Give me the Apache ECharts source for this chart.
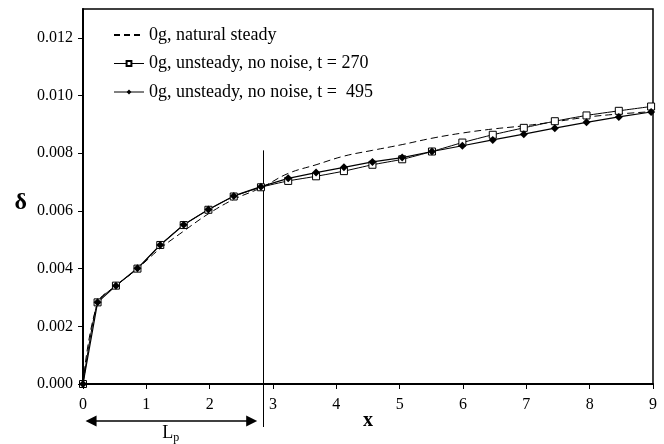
<!DOCTYPE html>
<html>
<head>
<meta charset="utf-8">
<script src="https://cdn.jsdelivr.net/npm/echarts@6/dist/echarts.min.js"></script>
<style>
  html, body { margin: 0; padding: 0; background: #fff; }
  #main { width: 664px; height: 444px; }
</style>
</head>
<body>
<div id="main"></div>
<script>
var xs = [0, 0.23, 0.52, 0.86, 1.22, 1.59, 1.98, 2.38, 2.81, 3.24, 3.68, 4.12, 4.57, 5.04, 5.51, 5.99, 6.47, 6.96, 7.45, 7.95, 8.46, 8.97];
var steady = [0, 0.0028, 0.0034, 0.0040, 0.0047, 0.0053, 0.0059, 0.0064, 0.0068, 0.0073, 0.0076, 0.0079, 0.0081, 0.0083, 0.00852, 0.0087, 0.00884, 0.00895, 0.00909, 0.00925, 0.00936, 0.00944];
var t270 = [0, 0.00283, 0.00341, 0.00400, 0.00482, 0.00551, 0.00604, 0.00650, 0.00682, 0.00704, 0.00720, 0.00738, 0.00760, 0.00779, 0.00806, 0.00837, 0.00864, 0.00888, 0.00911, 0.00931, 0.00947, 0.00962];
var t495 = [0, 0.00283, 0.00341, 0.00401, 0.00482, 0.00552, 0.00605, 0.00652, 0.00684, 0.00713, 0.00733, 0.00751, 0.00770, 0.00785, 0.00806, 0.00826, 0.00846, 0.00866, 0.00887, 0.00907, 0.00926, 0.00943];
var names = ['0g, natural steady', '0g, unsteady, no noise, t = 270', '0g, unsteady, no noise, t =  495'];
var lpX = 2.85;

function pairs(a) {
    return xs.map(function (x, i) { return [x, a[i]]; });
}

var font = 'Liberation Serif';
var myChart = echarts.init(document.getElementById('main'));

var option = {
    backgroundColor: '#fff',
    animation: false,
    grid: {
        left: 83, right: 11, top: 9, bottom: 60,
        show: true, borderColor: '#000', borderWidth: 1.5
    },
    legend: {
        orient: 'vertical',
        left: 108,
        top: 21,
        itemWidth: 30,
        itemHeight: 6,
        itemGap: 10.5,
        lineStyle: { width: 1 },
        textStyle: { fontFamily: font, fontSize: 18, color: '#000' },
        data: [
            { name: names[0], itemStyle: { opacity: 0 }, lineStyle: { width: 2, type: [6, 4], color: '#000' } },
            { name: names[1] },
            { name: names[2] }
        ]
    },
    xAxis: {
        type: 'value',
        min: 0, max: 9, interval: 1,
        name: 'x',
        nameLocation: 'middle',
        nameGap: 27,
        nameMoveOverlap: false,
        nameTextStyle: { fontFamily: font, fontSize: 20, fontWeight: 'bold', color: '#000' },
        axisLine: { lineStyle: { color: '#000', width: 2 } },
        axisTick: { lineStyle: { color: '#000' }, length: 5 },
        axisLabel: { fontFamily: font, fontSize: 16, color: '#000', margin: 13 },
        splitLine: { show: false }
    },
    yAxis: {
        type: 'value',
        min: 0, max: 0.013, interval: 0.002,
        name: 'δ',
        nameLocation: 'middle',
        nameRotate: 0,
        nameGap: 56,
        nameMoveOverlap: false,
        nameTextStyle: {
            fontFamily: font, fontSize: 24, fontWeight: 'bold', color: '#000',
            verticalAlign: 'top', lineHeight: 12
        },
        axisLine: { lineStyle: { color: '#000', width: 2 } },
        axisTick: { lineStyle: { color: '#000' }, length: 5 },
        axisLabel: {
            fontFamily: font, fontSize: 16, color: '#000', margin: 10,
            showMaxLabel: false,
            formatter: function (v) { return v.toFixed(3); }
        },
        splitLine: { show: false }
    },
    series: [
        {
            name: names[0],
            type: 'line',
            smooth: 0.4,
            symbol: 'none',
            lineStyle: { color: '#000', width: 1, type: [7, 4] },
            itemStyle: { color: '#000' },
            data: pairs(steady)
        },
        {
            name: names[1],
            type: 'line',
            smooth: 0.2,
            symbol: 'rect',
            symbolSize: 7,
            lineStyle: { color: '#000', width: 1 },
            itemStyle: { color: '#fff', borderColor: '#000', borderWidth: 1 },
            data: pairs(t270)
        },
        {
            name: names[2],
            type: 'line',
            symbol: 'diamond',
            symbolSize: 8,
            lineStyle: { color: '#000', width: 1.2 },
            itemStyle: { color: '#000' },
            data: pairs(t495)
        }
    ]
};
myChart.setOption(option);

// vertical marker and the L_p arrow below the axis
var lineTop = myChart.convertToPixel({ gridIndex: 0 }, [lpX, 0.0081]);
var lineBase = myChart.convertToPixel({ gridIndex: 0 }, [lpX, 0]);
var a0 = myChart.convertToPixel({ gridIndex: 0 }, [0.04, 0]);
var a1 = myChart.convertToPixel({ gridIndex: 0 }, [2.75, 0]);
var ay = lineBase[1] + 37;
var mid = (a0[0] + a1[0]) / 2;

myChart.setOption({
    graphic: [
        {
            type: 'line',
            shape: { x1: lineTop[0], y1: lineTop[1], x2: lineBase[0], y2: lineBase[1] + 43 },
            style: { stroke: '#000', lineWidth: 1 }
        },
        {
            type: 'line',
            shape: { x1: a0[0] + 8, y1: ay, x2: a1[0] - 8, y2: ay },
            style: { stroke: '#000', lineWidth: 1.3 }
        },
        {
            type: 'polygon',
            shape: { points: [[a0[0], ay], [a0[0] + 11, ay - 5.5], [a0[0] + 11, ay + 5.5]] },
            style: { fill: '#000' }
        },
        {
            type: 'polygon',
            shape: { points: [[a1[0], ay], [a1[0] - 11, ay - 5.5], [a1[0] - 11, ay + 5.5]] },
            style: { fill: '#000' }
        },
        {
            type: 'text',
            x: mid - 9,
            y: ay + 1,
            style: {
                text: '{a|L}{b|p}',
                rich: {
                    a: { fontFamily: font, fontSize: 18, fill: '#000' },
                    b: { fontFamily: font, fontSize: 12, fill: '#000', padding: [10, 0, 0, 0] }
                }
            }
        }
    ]
});
</script>
</body>
</html>
